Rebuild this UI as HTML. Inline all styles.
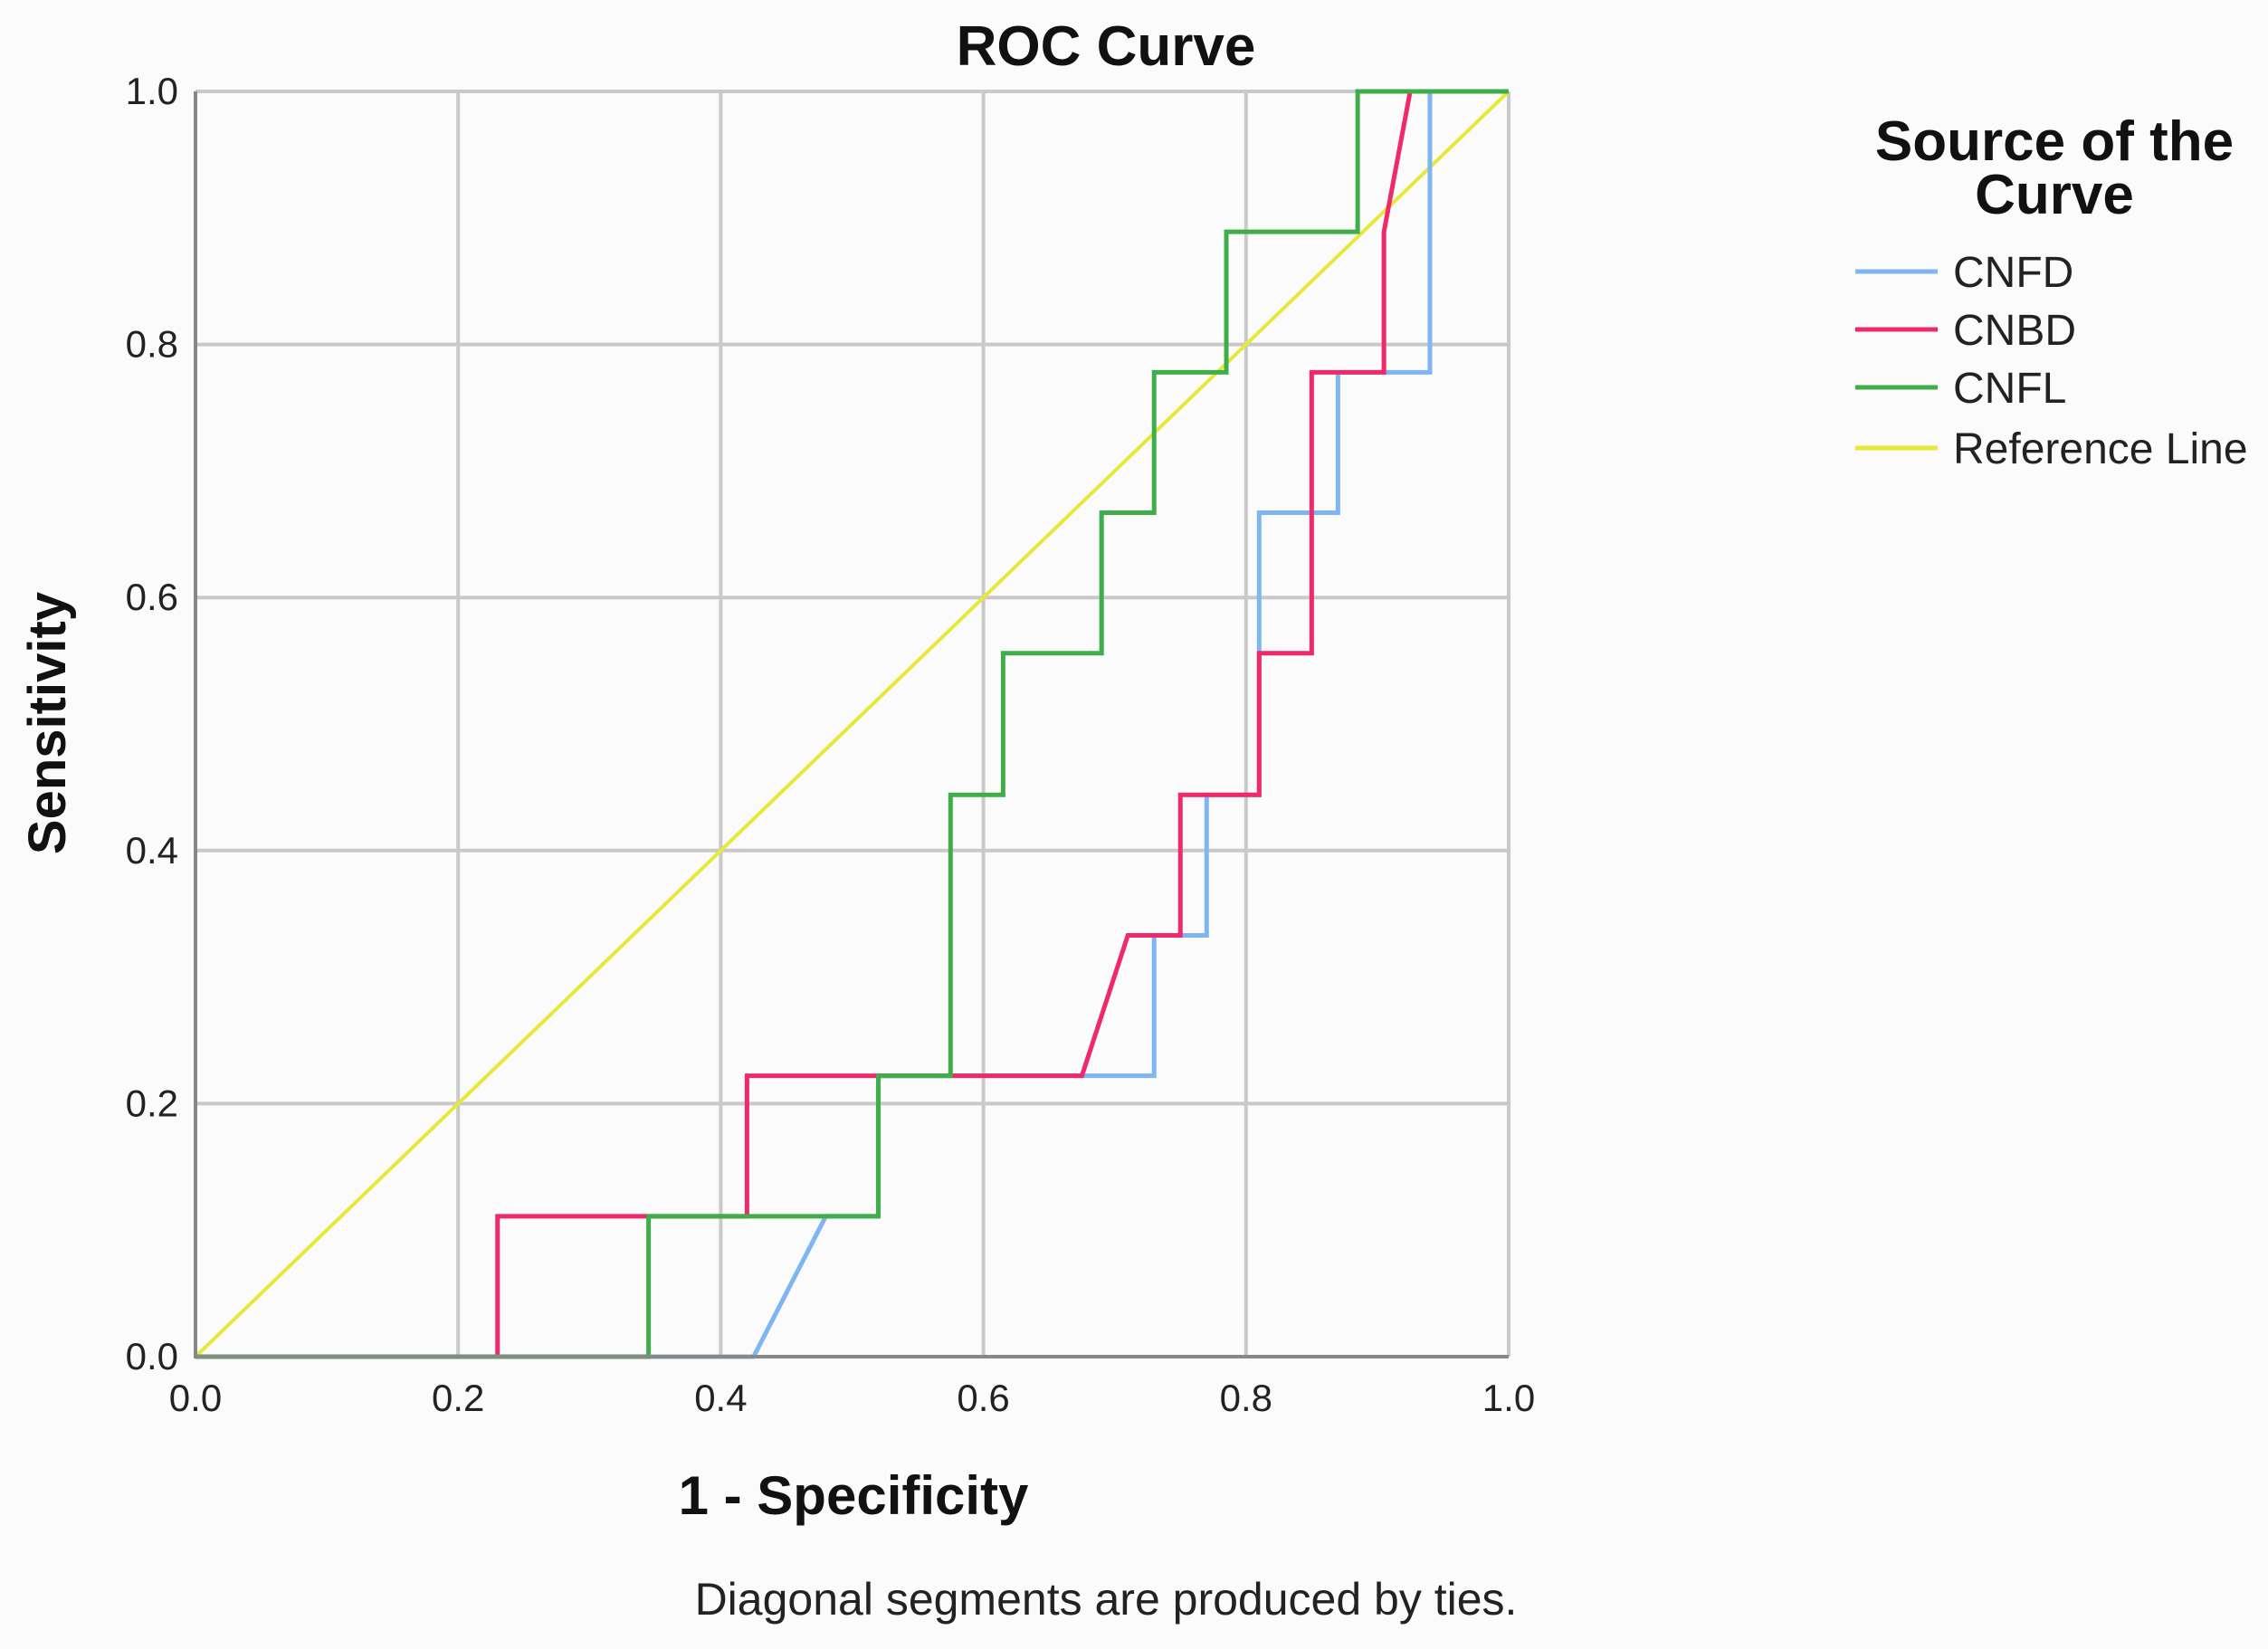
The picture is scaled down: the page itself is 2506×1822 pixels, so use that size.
<!DOCTYPE html>
<html><head><meta charset="utf-8"><style>
html,body{margin:0;padding:0;background:#fbfbfb;}
svg{display:block;font-family:"Liberation Sans",Arial,sans-serif;}
</style></head><body>
<svg id="chart" width="2506" height="1822" viewBox="0 0 2506 1822">
<rect x="0" y="0" width="2506" height="1822" fill="#fbfbfb"/>
<g id="grid"></g>
<g id="series"></g>
<g id="axes"></g>
<text x="1222" y="72" text-anchor="middle" font-size="62" font-weight="bold" fill="#111">ROC Curve</text>
<text transform="translate(72,799) rotate(-90)" text-anchor="middle" font-size="58" font-weight="bold" fill="#111">Sensitivity</text>
<text x="943" y="1673" text-anchor="middle" font-size="60" font-weight="bold" fill="#111">1 - Specificity</text>
<text x="1222" y="1784" text-anchor="middle" font-size="50" fill="#222">Diagonal segments are produced by ties.</text>
<g>
<text x="2270" y="177" text-anchor="middle" font-size="62" font-weight="bold" fill="#111">Source of the</text>
<text x="2270" y="236" text-anchor="middle" font-size="62" font-weight="bold" fill="#111">Curve</text>
<g id="legend-items"></g>
</g>
</svg>
<script>
const categories = ["CNFD","CNBD","CNFL","Reference Line"];
const colors = ["#7fb6f2","#ee2a6a","#3fae4a","#e8e83a"];
const ticks = [0,0.2,0.4,0.6,0.8,1.0];
const tickLabels = ["0.0","0.2","0.4","0.6","0.8","1.0"];
const cnfdX = [0,0.425,0.48,0.52,0.52,0.73,0.73,0.77,0.77,0.81,0.81,0.87,0.87,0.94,0.94,1];
const cnfdY = [0,0,0.111,0.111,0.222,0.222,0.333,0.333,0.444,0.444,0.667,0.667,0.778,0.778,1,1];
const cnbdX = [0,0.23,0.23,0.42,0.42,0.675,0.71,0.75,0.75,0.81,0.81,0.85,0.85,0.905,0.905,0.925,1];
const cnbdY = [0,0,0.111,0.111,0.222,0.222,0.333,0.333,0.444,0.444,0.556,0.556,0.778,0.778,0.889,1,1];
const cnflX = [0,0.345,0.345,0.52,0.52,0.575,0.575,0.615,0.615,0.69,0.69,0.73,0.73,0.785,0.785,0.885,0.885,1];
const cnflY = [0,0,0.111,0.111,0.222,0.222,0.444,0.444,0.556,0.556,0.667,0.667,0.778,0.778,0.889,0.889,1,1];
const refX = [0,1];
const refY = [0,1];

const X0=216,X1=1667,Y0=1499,Y1=101;
const sx=v=>X0+(X1-X0)*v, sy=v=>Y0-(Y0-Y1)*v;
const NS="http://www.w3.org/2000/svg";
function mk(t,a,p){const e=document.createElementNS(NS,t);for(const k in a)e.setAttribute(k,a[k]);p.appendChild(e);return e;}
const grid=document.getElementById('grid'),axes=document.getElementById('axes'),ser=document.getElementById('series');
ticks.forEach((t,i)=>{
  const v=mk('line',{x1:sx(t),x2:sx(t),y1:Y1,y2:Y0,stroke:'#c9c9c9','stroke-width':4},grid);
  
  
  const h=mk('line',{x1:X0,x2:X1,y1:sy(t),y2:sy(t),stroke:'#c9c9c9','stroke-width':4},grid);
  
  
  const xl=mk('text',{x:sx(t),y:1559,'text-anchor':'middle','font-size':42,fill:'#222'},axes);
  xl.textContent=tickLabels[i];
  
  
  const yl=mk('text',{x:197,y:sy(t)+14,'text-anchor':'end','font-size':42,fill:'#222'},axes);
  yl.textContent=tickLabels[i];
  
  
});
const ax=mk('path',{d:`M${X0},${Y1} V${Y0} H${X1}`,fill:'none',stroke:'#888','stroke-width':4},axes);


const data=[[cnfdX,cnfdY],[cnbdX,cnbdY],[cnflX,cnflY],[refX,refY]];
const order=[3,0,1,2];
order.forEach(i=>{
  const [xs,ys]=data[i];
  const p=mk('polyline',{points:xs.map((x,j)=>sx(x)+','+sy(ys[j])).join(' '),fill:'none',stroke:colors[i],'stroke-width':i==3?4:5},ser);
  
  
});
const li=document.getElementById('legend-items');
const ly=[300,364,428,495];
categories.forEach((c,i)=>{
  const l=mk('line',{x1:2050,x2:2141,y1:ly[i],y2:ly[i],stroke:colors[i],'stroke-width':5},li);
  
  
  const t=mk('text',{x:2158,y:ly[i]+17,'font-size':48,fill:'#222'},li);
  t.textContent=c;
  
  
});
</script>
</body></html>
